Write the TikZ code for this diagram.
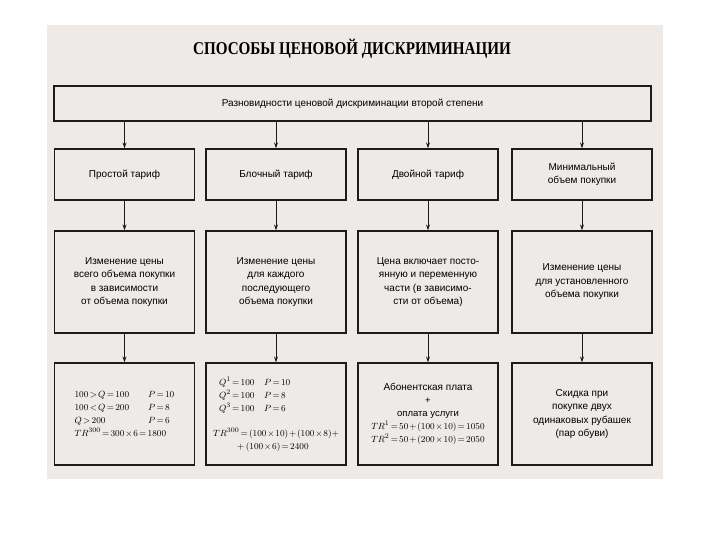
\documentclass[tikz,border=0pt]{standalone}
\usepackage{fontspec}
\setmainfont{Liberation Serif}
\setsansfont{Liberation Sans}
\usepackage{amsmath}
\usepackage{graphicx}
\usetikzlibrary{arrows.meta}
\definecolor{scan}{RGB}{237,234,231}
\definecolor{ink}{RGB}{28,28,28}
\newcommand{\tightmath}{\thickmuskip=2.5mu\relax\medmuskip=1.6mu\relax}
\tikzset{
  box/.style={draw=ink,line width=1.2pt,minimum width=140pt,align=center,inner sep=2pt,
    font=\sffamily\fontsize{10}{13.5}\selectfont},   % framed block
  headbox/.style={box,minimum width=597pt,minimum height=35pt},
  kindbox/.style={box,minimum height=51pt},           % kind of tariff
  descbox/.style={box,minimum height=102pt},          % description / example
  calcbox/.style={descbox,font=\sffamily\fontsize{9.5}{13}\selectfont\tightmath}, % example with formulas
  arr/.style={-{Stealth[length=6pt,width=4pt]},ink,line width=0.8pt},
  ttl/.style={font=\bfseries\fontsize{18}{20}\selectfont},
}

\begin{document}
\begin{tikzpicture}[x=1pt,y=-1pt]
  \useasboundingbox (0,0) rectangle (720,540);
  \fill[scan] (47,25) rectangle (663,479); % page
  \node[ttl] (title) at (352,49) {\scalebox{0.84}[1]{СПОСОБЫ ЦЕНОВОЙ ДИСКРИМИНАЦИИ}};
  \node[headbox] (top) at (352.5,103.5) {Разновидности ценовой дискриминации второй степени};
  % kinds
  \node[kindbox] (k1) at (124.5,174.5) {Простой тариф};
  \node[kindbox] (k2) at (276,174.5) {Блочный тариф};
  \node[kindbox] (k3) at (428,174.5) {Двойной тариф};
  \node[kindbox] (k4) at (582,174.5) {Минимальный\\объем покупки};
  % descriptions
  \node[descbox] (d1) at (124.5,282) {Изменение цены\\всего объема покупки\\в зависимости\\от объема покупки};
  \node[descbox] (d2) at (276,282) {Изменение цены\\для каждого\\последующего\\объема покупки};
  \node[descbox] (d3) at (428,282) {Цена включает посто-\\янную и переменную\\части (в зависимо-\\сти от объема)};
  \node[descbox] (d4) at (582,282) {Изменение цены\\для установленного\\объема покупки};
  % examples
  \node[calcbox,align=left] (e1) at (124.5,414) {%
    \begin{tabular}{@{}l@{\qquad}l@{}}
      $100 > Q = 100$ & $P = 10$\\
      $100 < Q = 200$ & $P = 8$\\
      $Q > 200$ & $P = 6$\\
      \multicolumn{2}{@{}l@{}}{$TR^{300} = 300\times6 = 1800$}
    \end{tabular}};
  \node[calcbox,align=left] (e2) at (276,414) {%
    \hspace*{6pt}$Q^1 = 100\quad P = 10$\\
    \hspace*{6pt}$Q^2 = 100\quad P = 8$\\
    \hspace*{6pt}$Q^3 = 100\quad P = 6$\\[12pt]
    $TR^{300} = (100\times10) + (100\times8) +$\\
    \hspace*{24pt}$+\,(100\times6) = 2400$};
  \node[calcbox] (e3) at (428,414) {\fontsize{10}{13}\selectfont Абонентская плата\\+\\оплата услуги\\
    $TR^1 = 50 + (100\times10) = 1050$\\$TR^2 = 50 + (200\times10) = 2050$};
  \node[descbox] (e4) at (582,414) {Скидка при\\покупке двух\\одинаковых рубашек\\(пар обуви)};
  % arrows
  \foreach \n in {1,...,4} {
    \draw[arr] (top.south -| k\n.north) -- (k\n.north);
    \draw[arr] (k\n) -- (d\n);
    \draw[arr] (d\n) -- (e\n);
  }
\end{tikzpicture}
\end{document}
